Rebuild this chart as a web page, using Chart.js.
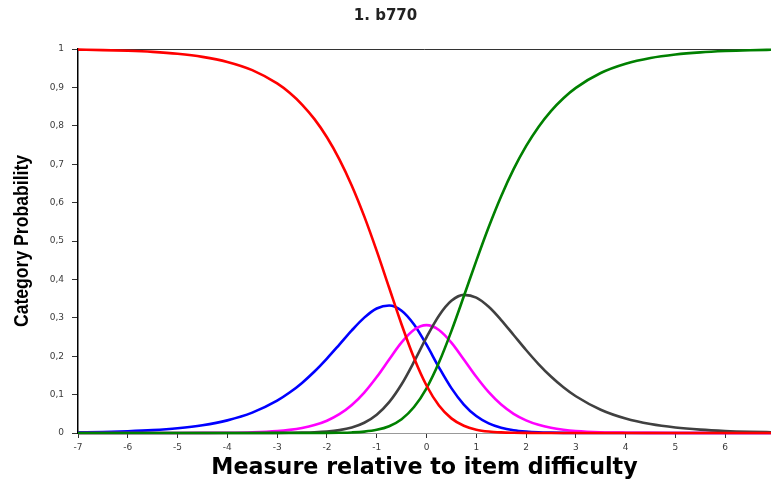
<!DOCTYPE html>
<html>
<head>
<meta charset="utf-8">
<script src="https://cdn.jsdelivr.net/npm/chart.js@4/dist/chart.umd.min.js"></script>
<style>
  html, body { margin: 0; padding: 0; background: #ffffff; }
  #wrap { width: 771px; height: 479px; position: relative; }
</style>
</head>
<body>
<div id="wrap"><canvas id="c" width="771" height="479"></canvas></div>
<script>
const chartTitle = '1. b770';
const xAxisTitle = 'Measure relative to item difficulty';
const yAxisTitle = 'Category Probability';

const measures = [-7,-6.5,-6,-5.5,-5,-4.5,-4,-3.5,-3,
  -2.75,-2.5,-2.25,-2,-1.75,-1.5,-1.25,-1,-0.75,-0.5,-0.25,0,0.25,0.5,0.75,1,1.25,1.5,1.75,2,2.25,2.5,2.75,
  3,3.5,4,4.5,5,5.5,6,6.5,7];

const cat0 = [0.9983,0.9972,0.9954,0.9924,0.9875,0.9795,0.9664,0.9450,0.9103,
  0.8860,0.8554,0.8173,0.7701,0.7128,0.6441,0.5641,0.4742,0.3782,0.2825,0.1952,0.1237,
  0.0717,0.0381,0.0188,0.0087,0.0038,0.0016,0.0007,0.0003,0.0001,0,0,
  0,0,0,0,0,0,0,0,0];
const cat1 = [0.0017,0.0028,0.0046,0.0075,0.0124,0.0202,0.0329,0.0530,0.0843,
  0.1053,0.1305,0.1601,0.1938,0.2302,0.2672,0.3004,0.3243,0.3321,0.3185,0.2826,0.2299,
  0.1711,0.1169,0.0741,0.0441,0.0249,0.0135,0.0071,0.0037,0.0018,0.0009,0.0004,
  0.0002,0.0001,0,0,0,0,0,0,0];
const cat2 = [0,0,0,0,0.0001,0.0003,0.0007,0.0020,0.0051,
  0.0082,0.0131,0.0206,0.0320,0.0489,0.0728,0.1052,0.1457,0.1916,0.2360,0.2688,0.2808,
  0.2683,0.2354,0.1915,0.1463,0.1062,0.0740,0.0500,0.0330,0.0213,0.0136,0.0086,
  0.0054,0.0021,0.0008,0.0003,0.0001,0,0,0,0];
const cat3 = [0,0,0,0,0,0,0,0.0001,0.0002,
  0.0005,0.0010,0.0019,0.0038,0.0075,0.0144,0.0267,0.0476,0.0803,0.1269,0.1857,0.2491,
  0.3055,0.3442,0.3596,0.3526,0.3286,0.2942,0.2553,0.2162,0.1796,0.1471,0.1192,
  0.0957,0.0606,0.0377,0.0232,0.0142,0.0087,0.0053,0.0032,0.0019];
const cat4 = [0,0,0,0,0,0,0,0,0,
  0,0,0.0001,0.0002,0.0006,0.0015,0.0036,0.0082,0.0177,0.0360,0.0676,0.1165,
  0.1835,0.2654,0.3560,0.4483,0.5364,0.6166,0.6870,0.7469,0.7971,0.8383,0.8718,
  0.8987,0.9374,0.9615,0.9766,0.9857,0.9913,0.9947,0.9968,0.9981];

const xTickValues = [-7,-6,-5,-4,-3,-2,-1,0,1,2,3,4,5,6];
const xTickLabels = ['-7','-6','-5','-4','-3','-2','-1','0','1','2','3','4','5','6'];
const yTickValues = [0,0.1,0.2,0.3,0.4,0.5,0.6,0.7,0.8,0.9,1];
const yTickLabels = ['0','0,1','0,2','0,3','0,4','0,5','0,6','0,7','0,8','0,9','1'];

const pts = arr => measures.map((x, i) => ({x: x, y: arr[i]}));
const mk = (arr, color) => ({
  data: pts(arr), borderColor: color, backgroundColor: color,
  borderWidth: 2.6, pointRadius: 0, fill: false,
  cubicInterpolationMode: 'monotone', clip: false
});

// condensed, rotated y-axis title (real canvas text)
const yTitlePlugin = {
  id: 'yTitle',
  afterDraw(chart) {
    const ctx = chart.ctx;
    const area = chart.chartArea;
    ctx.save();
    ctx.translate(22.5, (area.top + area.bottom) / 2);
    ctx.rotate(-Math.PI / 2);
    ctx.scale(0.88, 1);
    ctx.font = "bold 20px 'Liberation Sans', Arial, sans-serif";
    ctx.fillStyle = '#000';
    ctx.textAlign = 'center';
    ctx.textBaseline = 'middle';
    ctx.fillText(yAxisTitle, 0, 0);
    ctx.restore();
  }
};

new Chart(document.getElementById('c'), {
  type: 'line',
  data: {
    datasets: [
      mk(cat0, '#ff0000'),
      mk(cat4, '#008000'),
      mk(cat3, '#404040'),
      mk(cat2, '#ff00ff'),
      mk(cat1, '#0000ff')
    ]
  },
  plugins: [yTitlePlugin],
  options: {
    responsive: false,
    animation: false,
    events: [],
    layout: { padding: 0 },
    plugins: {
      legend: { display: false },
      tooltip: { enabled: false },
      title: {
        display: true, text: chartTitle, color: '#222',
        font: { family: 'DejaVu Sans', size: 15, weight: 'bold', lineHeight: 1.2 },
        padding: { top: 7, bottom: 24 }
      }
    },
    scales: {
      x: {
        type: 'linear', min: -7, max: 6.92,
        afterBuildTicks: s => { s.ticks = xTickValues.map(v => ({value: v})); },
        afterFit: s => { s.height = 46; },
        ticks: {
          autoSkip: false, maxRotation: 0, padding: 4, color: '#3a3a3a',
          font: { family: 'DejaVu Sans', size: 9 },
          callback: (v, i) => xTickLabels[i]
        },
        grid: { drawOnChartArea: false, drawTicks: true, tickLength: 5, tickColor: '#333' },
        border: { display: true, color: '#999', width: 1 },
        title: {
          display: true, text: xAxisTitle, color: '#000',
          font: { family: 'DejaVu Sans', size: 22.2, weight: 'bold', lineHeight: 1 },
          padding: { top: 0, bottom: 0 }
        }
      },
      y: {
        type: 'linear', min: 0, max: 1,
        afterBuildTicks: s => { s.ticks = yTickValues.map(v => ({value: v})); },
        afterFit: s => { s.width = 78; },
        ticks: {
          autoSkip: false, padding: 8, color: '#3a3a3a',
          font: { family: 'DejaVu Sans', size: 9 },
          callback: (v, i) => yTickLabels[i]
        },
        grid: {
          drawOnChartArea: true, drawTicks: true, tickLength: 6, tickColor: '#333',
          color: ctx => (ctx.tick && ctx.tick.value === 1) ? '#333' : 'rgba(0,0,0,0)',
          lineWidth: 1
        },
        border: { display: true, color: '#000', width: 1.5 },
        title: { display: false }
      }
    }
  }
});
</script>
</body>
</html>
